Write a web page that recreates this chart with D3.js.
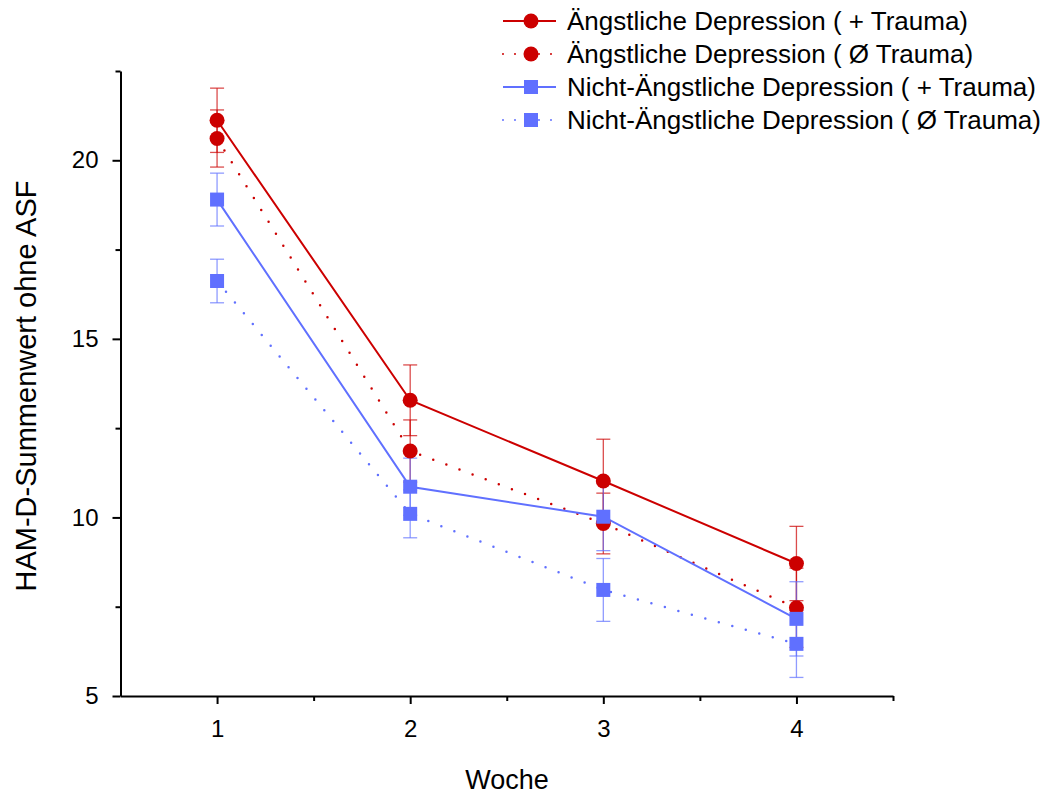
<!DOCTYPE html>
<html>
<head>
<meta charset="utf-8">
<script src="https://cdn.jsdelivr.net/npm/d3@7"></script>
<style>
  body { margin: 0; background: #fff; }
  svg { font-family: Arial, "Liberation Sans", sans-serif; }
</style>
</head>
<body>
<div id="chart"></div>
<script>
// weeks and series values (mean, error)
const weeks = [1, 2, 3, 4];
const seriesNames = [
  "Ängstliche Depression ( + Trauma)",
  "Ängstliche Depression ( Ø Trauma)",
  "Nicht-Ängstliche Depression ( + Trauma)",
  "Nicht-Ängstliche Depression ( Ø Trauma)"
];
const anxTrauma = [21.12, 13.28, 11.02, 8.71];
const anxTraumaErr = [0.9, 0.99, 1.17, 1.04];
const anxNoTrauma = [20.61, 11.86, 9.83, 7.47];
const anxNoTraumaErr = [0.8, 0.87, 0.85, 1.11];
const nonAnxTrauma = [18.9, 10.86, 10.02, 7.16];
const nonAnxTraumaErr = [0.74, 0.8, 0.95, 1.04];
const nonAnxNoTrauma = [16.62, 10.1, 7.97, 6.46];
const nonAnxNoTraumaErr = [0.61, 0.67, 0.88, 0.94];
const yTicks = [5, 10, 15, 20];

const red = "#cc0000", blue = "#6070ff";
const series = [
  { name: seriesNames[0], values: anxTrauma, err: anxTraumaErr, color: red, dotted: false, shape: "circle" },
  { name: seriesNames[1], values: anxNoTrauma, err: anxNoTraumaErr, color: red, dotted: true, shape: "circle" },
  { name: seriesNames[2], values: nonAnxTrauma, err: nonAnxTraumaErr, color: blue, dotted: false, shape: "square" },
  { name: seriesNames[3], values: nonAnxNoTrauma, err: nonAnxNoTraumaErr, color: blue, dotted: true, shape: "square" }
];

const width = 1041, height = 796;
const svg = d3.select("#chart").append("svg")
  .attr("width", width).attr("height", height);

const x = d3.scaleLinear().domain([0.5, 4.5]).range([120.5, 893]);
const y = d3.scaleLinear().domain([5, 22.5]).range([696, 71]);

// axes
const xAxis = svg.append("g").attr("transform", "translate(0,696)")
  .call(d3.axisBottom(x).tickValues(weeks).tickFormat(d3.format("d")).tickSize(8).tickSizeOuter(0));
svg.append("g").attr("transform", "translate(0,696)")
  .call(d3.axisBottom(x).tickValues([1.5, 2.5, 3.5, 4.5]).tickFormat("").tickSize(5).tickSizeOuter(0))
  .select(".domain").remove();
const yAxis = svg.append("g").attr("transform", "translate(120.5,0)")
  .call(d3.axisLeft(y).tickValues(yTicks).tickFormat(d3.format("d")).tickSize(8).tickSizeOuter(0));
svg.append("g").attr("transform", "translate(120.5,0)")
  .call(d3.axisLeft(y).tickValues([7.5, 12.5, 17.5, 22.5]).tickFormat("").tickSize(5).tickSizeOuter(0))
  .select(".domain").remove();

[xAxis, yAxis].forEach(a => a.attr("font-size", null).attr("font-family", null));
svg.selectAll(".domain").attr("stroke", "#000").attr("stroke-width", 2);
svg.selectAll(".tick line").attr("stroke", "#000").attr("stroke-width", 2);
svg.selectAll(".tick text").attr("font-size", 24).style("font-size", "24px").attr("fill", "#000");
xAxis.selectAll(".tick text").attr("y", 24);
yAxis.selectAll(".tick text").attr("x", -22);

// axis titles
svg.append("text").attr("x", 507).attr("y", 789).attr("text-anchor", "middle")
  .style("font-size", "27px").text("Woche");
svg.append("text").attr("transform", "translate(36,386) rotate(-90)")
  .attr("text-anchor", "middle").style("font-size", "29px").text("HAM-D-Summenwert ohne ASF");

const line = d3.line().x((d, i) => x(weeks[i])).y(d => y(d));

// lines
series.forEach(s => {
  svg.append("path").datum(s.values)
    .attr("d", line)
    .attr("fill", "none")
    .attr("stroke", s.color)
    .attr("stroke-width", s.dotted ? 2.5 : 2)
    .attr("stroke-linecap", s.dotted ? "round" : "butt")
    .attr("stroke-dasharray", s.dotted ? "0,14" : null);
});

// error bars
series.forEach(s => {
  const g = svg.append("g").attr("stroke", s.color).attr("stroke-opacity", 0.7).attr("stroke-width", 1.3);
  s.values.forEach((v, i) => {
    const cx = x(weeks[i]);
    g.append("line").attr("x1", cx).attr("x2", cx).attr("y1", y(v - s.err[i])).attr("y2", y(v + s.err[i]));
    [v - s.err[i], v + s.err[i]].forEach(e => {
      g.append("line").attr("x1", cx - 7).attr("x2", cx + 7).attr("y1", y(e)).attr("y2", y(e));
    });
  });
});

// markers
function drawMarker(g, shape, cx, cy, color) {
  if (shape === "circle") {
    g.append("circle").attr("cx", cx).attr("cy", cy).attr("r", 7.5).attr("fill", color);
  } else {
    g.append("rect").attr("x", cx - 7).attr("y", cy - 7).attr("width", 14).attr("height", 14).attr("fill", color);
  }
}
series.forEach(s => {
  const g = svg.append("g");
  s.values.forEach((v, i) => drawMarker(g, s.shape, x(weeks[i]), y(v), s.color));
});

// legend
const legend = svg.append("g");
series.forEach((s, i) => {
  const ly = 21 + i * 33;
  legend.append("line").attr("x1", 503).attr("x2", 556).attr("y1", ly).attr("y2", ly)
    .attr("stroke", s.color).attr("stroke-width", 2)
    .attr("stroke-linecap", s.dotted ? "round" : "butt")
    .attr("stroke-dasharray", s.dotted ? "0,12" : null);
  drawMarker(legend, s.shape, 531, ly, s.color);
  legend.append("text").attr("x", 567).attr("y", ly).attr("dy", "0.35em")
    .style("font-size", "26px").attr("fill", "#000").text(s.name);
});
</script>
</body>
</html>
